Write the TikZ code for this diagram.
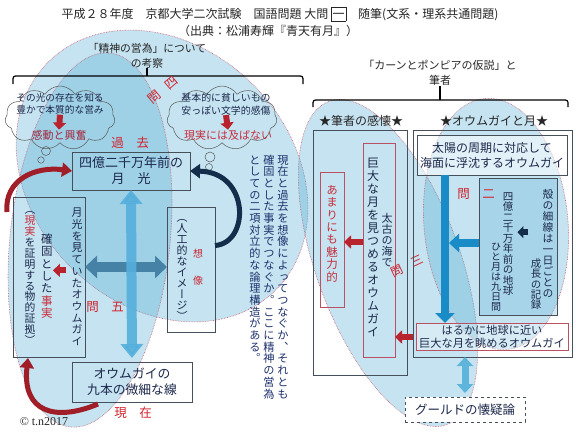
\documentclass[tikz,border=0pt]{standalone}
\usepackage{fontspec}
\setmainfont{Noto Sans CJK JP}
\newfontfamily\vfont[RawFeature=+vert]{Noto Sans CJK JP}
\newfontfamily\serif{Liberation Serif}
\usetikzlibrary{arrows.meta,shapes.symbols,calc}
\definecolor{ellc}{RGB}{80,170,210}
\definecolor{dotc}{RGB}{200,90,110}
\definecolor{boxc}{RGB}{70,80,90}
\definecolor{rbox}{RGB}{185,80,100}
\definecolor{navy}{RGB}{28,40,75}
\definecolor{pnavy}{RGB}{30,50,110}
\definecolor{tred}{RGB}{210,35,45}
\definecolor{dred}{RGB}{165,40,60}
\definecolor{rtxt}{RGB}{200,45,60}
\definecolor{ared}{RGB}{185,35,45}
\definecolor{arcred}{RGB}{160,30,40}
\definecolor{navyarc}{RGB}{20,45,75}
\definecolor{bluevc}{RGB}{85,175,220}
\definecolor{steelc}{RGB}{70,130,165}
\definecolor{barc}{RGB}{25,140,200}
\definecolor{dblc}{RGB}{95,180,220}
\ExplSyntaxOn
\cs_new_eq:NN \vtmap \tl_map_inline:nn
\ExplSyntaxOff
\newcommand\vt[2][0pt]{\vbox{\offinterlineskip\vtmap{#2}{\hbox to 1em{\hss\vrule height .88em depth .12em width 0pt ##1\hss}\kern#1}}}
\newcommand\vfs[1]{\vfont\fontsize{#1}{#1}\selectfont}
\newcommand\hfs[2]{\fontsize{#1}{#2}\selectfont}
\setlength\fboxsep{1pt}
\setlength\fboxrule{0.6pt}
\begin{document}
\begin{tikzpicture}[x=1pt,y=-1pt,
  ell/.style={fill=ellc, fill opacity=.33, draw=dotc, draw opacity=1, densely dotted, line width=.6pt},
  bx/.style={draw=boxc, line width=.6pt, inner sep=0, outer sep=0},
  rbx/.style={draw=rbox, line width=.7pt, inner sep=0, outer sep=0},
  ht/.style={inner sep=0, align=center, text=navy},
  vtx/.style={inner sep=0, anchor=north, text=navy},
  brk/.style={line width=1.2pt, black},
  cl/.style={cloud, cloud puffs=11, cloud puff arc=115, cloud ignores aspect, draw=gray!70!black, line width=.5pt, inner sep=0, minimum width=110pt, minimum height=64pt},
  bub/.style={circle, draw=gray!70!black, line width=.5pt, inner sep=0},
  redblk/.style={draw=ared, line width=6pt, arrows={-Triangle[width=13pt,length=7pt]}},
  navyblk/.style={draw=navyarc, line width=5.5pt, arrows={-Triangle[width=12pt,length=6pt]}},
  arcred/.style={draw=arcred, line width=5pt, arrows={-Triangle[width=14pt,length=10pt]}},
  navyarcst/.style={draw=navyarc, line width=5pt, arrows={-Triangle[width=14pt,length=10pt]}},
  bluev/.style={draw=bluevc, line width=10pt, arrows={Triangle[width=22pt,length=14pt]-Triangle[width=22pt,length=14pt]}},
  steelarr/.style={draw=steelc, line width=10pt, arrows={Triangle[width=22pt,length=12pt]-Triangle[width=22pt,length=12pt]}},
  bluebar/.style={draw=barc, line width=8pt, arrows={-Triangle[width=19pt,length=10pt]}},
  bluearr/.style={draw=barc, line width=8pt, arrows={-Triangle[width=18pt,length=10pt]}},
  bluedbl/.style={draw=dblc, line width=7pt, arrows={Triangle[width=16pt,length=9pt]-Triangle[width=16pt,length=9pt]}}
]
\fill[white] (0,0) rectangle (576,432);
\useasboundingbox (0,0) rectangle (576,432);

% ellipses
\path[ell, rotate around={-45:(162,176)}] (162,176) ellipse [x radius=161, y radius=129];
\path[ell, rotate around={-6:(90,240)}] (90,240) ellipse [x radius=80, y radius=188];
\path[ell, rotate around={20:(388,263)}] (388,263) ellipse [x radius=72, y radius=172];
\path[ell, rotate around={5:(496,224)}] (496,224) ellipse [x radius=72, y radius=126];

% title
\node[ht, text=black!85, font=\hfs{12}{14}] (t1) at (280,14) {平成２８年度　京都大学二次試験　国語問題 大問 \fbox{\vrule height .85em depth .12em width 0pt 一}　随筆(文系・理系共通問題)};
\node[ht, text=black!85, font=\hfs{12}{14}] (t2) at (268,31) {（出典：松浦寿輝『青天有月』）};

% labels and brackets
\node[ht, text=black!85, font=\hfs{10.8}{15}] (labL) at (147,55.5) {「精神の営為」について\\の考察};
\node[ht, text=black!85, font=\hfs{11}{15}] (labR) at (440,73) {「カーンとポンピアの仮説」と\\筆者};
\coordinate (bkL1) at (13,84);
\coordinate (bkL2) at (303,84);
\draw[brk, rounded corners=2.5] (bkL1) -- (13,76) -- (303,76) -- (bkL2);
\draw[brk] (labL.south) -- (labL.south |- 0,76);
\coordinate (bkR1) at (313,107);
\coordinate (bkR2) at (568,107);
\draw[brk, rounded corners=2.5] (bkR1) -- (313,100) -- (568,100) -- (bkR2);
\draw[brk] (labR.south) -- (labR.south |- 0,100);

% clouds
\node[cl] (cl1) at (60,118) {};
\node[cl] (cl2) at (222,118) {};
\node[bub, minimum size=9pt] (bb1) at (46,151) {};
\node[bub, minimum size=6.5pt] (bb2) at (41,160) {};
\node[bub, minimum size=10pt] (bb3) at (210,157) {};
\node[bub, minimum size=7pt] (bb4) at (209,167) {};
\node[ht, font=\hfs{9.7}{12}] (c1a) at (60,104) {その光の存在を知る\\豊かで本質的な営み};
\node[ht, text=dred, font=\hfs{11}{11}] (c1b) at (59,135) {感動と興奮};
\node[ht, font=\hfs{9.9}{12.5}] (c2a) at (226,104) {基本的に貧しいもの\\安っぽい文学的感傷};
\node[ht, text=rtxt, font=\hfs{11}{11}] (c2b) at (228,135) {現実には及ばない};
\draw[redblk] (c1a.south) -- (c1b.north);
\draw[redblk] (c2a.south) -- (c2b.north);

% left boxes
\node[ht, text=tred, font=\hfs{12.5}{12.5}] (kako) at (130,143) {過　去};
\node[bx, ht, minimum width=118pt, minimum height=38pt, font=\hfs{13}{16}] (box1) at (131,171) {四億二千万年前の\\月　光};
\node[bx, ht, minimum width=120pt, minimum height=40pt, font=\hfs{12.8}{16}] (box9) at (132,382) {オウムガイの\\九本の微細な線};
\node[bx, minimum width=72pt, minimum height=160pt] (boxL) at (49,277) {};
\node[vtx, font=\vfs{11}] (vL1) at (77,207) {\vt[0.7pt]{月光を見ていたオウムガイ}};
\node[vtx, font=\vfs{11.5}] (vL2) at (47,233) {\vt[0.9pt]{確固とした{\color{rtxt}事}{\color{rtxt}実}}};
\node[vtx, font=\vfs{10.8}] (vL3) at (30,204) {\vt[0.1pt]{（{\color{rtxt}現}{\color{rtxt}実}を証明する物的証拠）}};
\node[bx, minimum width=48pt, minimum height=125pt] (boxI) at (191,269.5) {};
\node[vtx, font=\vfs{11}] (vI1) at (182,212) {\vt{（人工的なイメージ）}};
\node[vtx, font=\vfs{10}, text=rtxt] (vI2) at (198,248) {\vt[17pt]{想像}};

% left arrows
\draw[steelarr] ([yshift=10pt]boxL.east) -- ([yshift=2.5pt]boxI.west);
\draw[bluev, opacity=.9, shorten >=4pt] (box1.south) -- (box9.north);
\coordinate (lA) at ([yshift=7pt]vL1.west);
\draw[redblk, shorten <=5pt] (lA) -- (lA -| vL2.east);
\draw[arcred] ($(boxL.north west)+(-6,15)$) .. controls (4,180) and (35,166) .. (box1.west);
\draw[arcred] ($(box9.south west)+(26,2)$) .. controls (55,422) and (22,412) .. ($(boxL.south west)+(15,1)$);
\draw[navyarcst] ([yshift=24pt]boxI.east) .. controls (250,243) and (250,172) .. (box1.east);

\node[ht, text=tred, font=\hfs{12.5}{12.5}] (q5) at (105,307) {問　五};
\node[ht, text=tred, font=\hfs{12.5}{12.5}, rotate=40] (q4) at (163,90) {問\hspace{10pt}四};
\node[ht, text=tred, font=\hfs{12.5}{12.5}] (genzai) at (133,413) {現　在};

% paragraph
\node[vtx, text=pnavy, font=\vfs{11.2}] (p1) at (283,154) {\vt[0.5pt]{現在と過去を想像によってつなぐか、それとも}};
\node[vtx, text=pnavy, font=\vfs{11.2}] (p2) at (269,154) {\vt[0.5pt]{確固とした事実でつなぐか。ここに精神の営為}};
\node[vtx, text=pnavy, font=\vfs{11.2}] (p3) at (255,154) {\vt[0.5pt]{としての二項対立的な論理構造がある。}};

% right part
\node[ht, text=black!85, font=\hfs{12}{12}] (stK) at (361,121) {★筆者の感懐★};
\node[ht, text=black!85, font=\hfs{12}{12}] (stM) at (494,121) {★オウムガイと月★};
\node[bx, minimum width=94pt, minimum height=245pt] (boxK) at (360,252.5) {};
\node[rbx, minimum width=32pt, minimum height=214pt] (boxG) at (379,250) {};
\node[vtx, font=\vfs{12}] (vG1) at (373,157) {\vt[1pt]{巨大な月を見つめるオウムガイ}};
\node[vtx, font=\vfs{11}] (vG2) at (387,213) {\vt{太古の海で}};
\node[rbx, minimum width=24pt, minimum height=135pt] (boxA) at (332,239.5) {};
\node[vtx, font=\vfs{11.5}, text=rtxt] (vA) at (332,184) {\vt[0.9pt]{あまりにも魅力的}};
\coordinate (gA) at ([yshift=8pt]boxG.west);
\draw[redblk] (gA) -- (gA -| boxA.east);
\node[ht, text=tred, font=\hfs{12}{12}, rotate=25] (q3) at (407,266) {問\hspace{10pt}三};

\node[bx, minimum width=159pt, minimum height=227pt] (boxM) at (492.5,243.5) {};
\node[bx, ht, fill=white, fill opacity=.5, text opacity=1, minimum width=150pt, minimum height=40pt, font=\hfs{12}{15}] (boxT) at (492,155) {太陽の周期に対応して\\海面に浮沈するオウムガイ};
\node[bx, fill=ellc, fill opacity=.25, minimum width=78pt, minimum height=137pt] (boxS) at (518,246.5) {};
\node[vtx, font=\vfs{10.8}] (s1) at (548,189) {\vt[0.2pt]{殻の細線は一日ごとの}};
\node[vtx, font=\vfs{10.4}] (s2) at (536,258) {\vt{成長の記録}};
\node[vtx, font=\vfs{10.5}] (s3) at (508,191) {\vt{四億二千万年前の地球}};
\node[vtx, font=\vfs{10}] (s4) at (496,241) {\vt{ひと月は九日間}};
\node[ht, text=tred, font=\hfs{12.5}{12.5}] (q2) at (476,194) {問　二};
\coordinate (sA) at ([yshift=12pt]s1.west);
\draw[navyblk, shorten <=14pt, shorten >=4pt] (sA) -- (sA -| s3.east);

\node[rbx, ht, fill=white, fill opacity=.3, text opacity=1, minimum width=152pt, minimum height=27pt, font=\hfs{11.2}{13}] (boxH) at (492,336.5) {はるかに地球に近い\\巨大な月を眺めるオウムガイ};
\node[bx, ht, dashed, fill=white, minimum width=120pt, minimum height=25pt, font=\hfs{12.5}{12.5}] (boxGd) at (465,409.5) {グールドの懐疑論};

\coordinate (barT) at ($(boxT.south west)+(28,0)$);
\coordinate (barB) at (barT |- boxH.north);
\draw[bluebar] (barT) -- (barB);
\coordinate (barR) at ($(barT)+(4,68)$);
\draw[bluearr] ([yshift=3.5pt]boxS.west) -- (barR);
\coordinate (mH) at ([yshift=-93.5pt]boxM.west);
\draw[redblk] (mH) -- (mH -| boxG.east);
\draw[bluedbl, shorten <=7pt, shorten >=4pt] (boxH.south -| boxGd.north) -- (boxGd.north);

\node[inner sep=0, font=\serif\fontsize{12}{12}\selectfont, text=black!85] (cp) at (44,422) {© t.n2017};
\end{tikzpicture}
\end{document}
